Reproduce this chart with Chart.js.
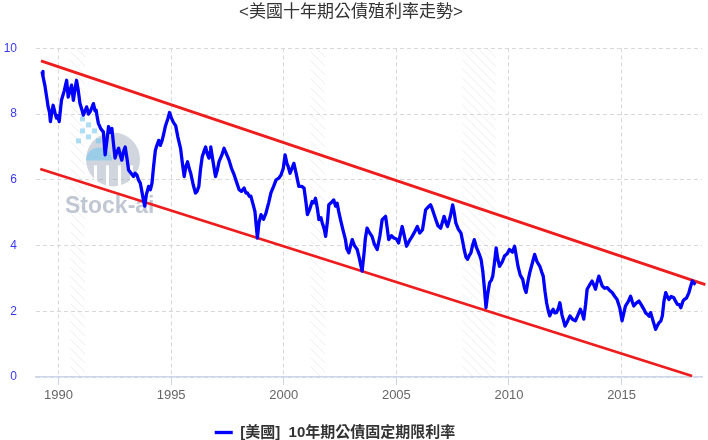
<!DOCTYPE html>
<html>
<head>
<meta charset="utf-8">
<script src="https://cdn.jsdelivr.net/npm/chart.js"></script>
<style>
  html, body { margin: 0; padding: 0; background: #fff; }
</style>
</head>
<body>
<canvas id="myChart" width="708" height="440"></canvas>
<script>
// 10y yield (decimal years)
var years = [
  1989.27, 1989.31, 1989.40, 1989.50, 1989.54, 1989.60, 1989.64, 1989.70, 1989.76, 1989.84, 1989.91, 1989.97,
  1990.03, 1990.08, 1990.13, 1990.25, 1990.36, 1990.43, 1990.50, 1990.58, 1990.66, 1990.73, 1990.80, 1990.88, 1990.95,
  1991.03, 1991.10, 1991.18, 1991.25, 1991.33, 1991.40, 1991.48, 1991.55, 1991.62, 1991.67, 1991.72, 1991.77, 1991.88, 1991.99,
  1992.07, 1992.15, 1992.22, 1992.30, 1992.37, 1992.44, 1992.51, 1992.59, 1992.67, 1992.74, 1992.81, 1992.88, 1992.96,
  1993.04, 1993.11, 1993.22, 1993.33, 1993.40, 1993.48, 1993.55, 1993.63, 1993.70, 1993.78, 1993.83, 1993.90,
  1994.00, 1994.08, 1994.15, 1994.22, 1994.30, 1994.37, 1994.45, 1994.52, 1994.60, 1994.67, 1994.74, 1994.85, 1994.93,
  1995.00, 1995.10, 1995.20, 1995.30, 1995.42, 1995.50, 1995.58, 1995.65, 1995.73, 1995.80, 1995.87, 1995.98,
  1996.08, 1996.15, 1996.23, 1996.30, 1996.38, 1996.45, 1996.53, 1996.60, 1996.68, 1996.73, 1996.76, 1996.85, 1996.97,
  1997.05, 1997.13, 1997.25, 1997.35, 1997.45, 1997.57, 1997.68, 1997.80, 1997.92,
  1998.02, 1998.12, 1998.24, 1998.32, 1998.39, 1998.47, 1998.54, 1998.62, 1998.72, 1998.78, 1998.83, 1998.90, 1998.99,
  1999.10, 1999.21, 1999.33, 1999.43, 1999.55, 1999.66, 1999.78, 1999.88, 1999.98,
  2000.06, 2000.14, 2000.20, 2000.28, 2000.45, 2000.55, 2000.67, 2000.80, 2000.90, 2000.99,
  2001.05, 2001.15, 2001.26, 2001.34, 2001.41, 2001.50, 2001.56, 2001.65, 2001.71, 2001.80, 2001.86, 2001.95,
  2002.00, 2002.10, 2002.22, 2002.30, 2002.37, 2002.45, 2002.52, 2002.62, 2002.74, 2002.80, 2002.89, 2002.97,
  2003.04, 2003.14, 2003.26, 2003.36, 2003.42, 2003.48, 2003.57, 2003.62, 2003.70, 2003.80, 2003.92,
  2004.02, 2004.15, 2004.27, 2004.37, 2004.52, 2004.60, 2004.66, 2004.78, 2004.89,
  2005.00, 2005.10, 2005.18, 2005.26, 2005.35, 2005.45, 2005.58, 2005.70, 2005.80, 2005.93,
  2006.04, 2006.16, 2006.30, 2006.38, 2006.52, 2006.60, 2006.75, 2006.85, 2006.97,
  2007.04, 2007.12, 2007.20, 2007.27, 2007.40, 2007.50, 2007.57, 2007.64, 2007.75, 2007.87, 2007.95,
  2008.01, 2008.09, 2008.16, 2008.24, 2008.31, 2008.38, 2008.46, 2008.55, 2008.62, 2008.70, 2008.76, 2008.84, 2008.90, 2008.98,
  2009.05, 2009.14, 2009.22, 2009.28, 2009.36, 2009.43, 2009.50, 2009.58, 2009.70, 2009.80, 2009.92,
  2010.02, 2010.15, 2010.25, 2010.32, 2010.40, 2010.50, 2010.61, 2010.69, 2010.76, 2010.84, 2010.92,
  2011.05, 2011.14, 2011.25, 2011.37, 2011.45, 2011.52, 2011.60, 2011.67, 2011.75, 2011.81, 2011.90, 2011.96,
  2012.03, 2012.11, 2012.20, 2012.26, 2012.35, 2012.49, 2012.60, 2012.71, 2012.83, 2012.95,
  2013.07, 2013.17, 2013.27, 2013.32, 2013.40, 2013.47, 2013.58, 2013.69, 2013.80, 2013.84, 2013.92, 2013.99,
  2014.10, 2014.14, 2014.25, 2014.36, 2014.45, 2014.58, 2014.70, 2014.80, 2014.92,
  2015.02, 2015.10, 2015.17, 2015.30, 2015.40, 2015.47, 2015.54, 2015.65, 2015.77, 2015.87, 2015.99,
  2016.07, 2016.14, 2016.22, 2016.29, 2016.40, 2016.51, 2016.58, 2016.66, 2016.74, 2016.81, 2016.88, 2016.96,
  2017.03, 2017.10, 2017.20, 2017.32, 2017.40, 2017.48, 2017.56, 2017.63, 2017.72, 2017.78, 2017.88, 2017.99,
  2018.06, 2018.14, 2018.22, 2018.29
];
var yields = [
  9.30, 9.15, 8.85, 8.40, 8.22, 8.05, 7.77, 8.05, 8.27, 8.05, 7.88, 7.95,
  7.77, 8.10, 8.42, 8.70, 9.03, 8.52, 8.70, 8.88, 8.42, 8.75, 9.03, 8.70, 8.33,
  8.15, 7.97, 8.10, 8.22, 8.00, 8.07, 8.20, 8.32, 8.10, 8.12, 7.90, 7.72, 7.55, 7.46,
  6.76, 7.20, 7.62, 7.45, 7.56, 7.10, 6.66, 6.85, 6.96, 6.75, 6.60, 6.85, 7.00,
  6.65, 6.30, 6.20, 6.10, 6.20, 6.15, 6.00, 5.90, 5.65, 5.34, 5.20, 5.55,
  5.80, 5.70, 5.90, 6.40, 6.90, 7.05, 7.20, 7.05, 7.20, 7.40, 7.62, 7.85, 8.05,
  7.90, 7.75, 7.65, 7.30, 6.95, 6.50, 6.10, 6.40, 6.55, 6.35, 6.20, 5.85,
  5.60, 5.65, 5.80, 6.30, 6.70, 6.85, 7.00, 6.80, 6.66, 6.85, 7.00, 6.60, 6.10,
  6.30, 6.56, 6.75, 6.96, 6.80, 6.60, 6.35, 6.15, 5.90,
  5.70, 5.65, 5.75, 5.60, 5.60, 5.50, 5.50, 5.30, 5.04, 4.60, 4.23, 4.70, 4.94,
  4.80, 4.99, 5.30, 5.60, 5.80, 6.00, 6.05, 6.15, 6.35,
  6.76, 6.50, 6.40, 6.20, 6.50, 6.20, 5.80, 5.80, 5.75, 5.30,
  4.94, 5.10, 5.34, 5.30, 5.44, 5.10, 4.79, 4.85, 4.69, 4.50, 4.28, 4.80,
  5.24, 5.30, 5.39, 5.20, 5.29, 5.00, 4.79, 4.50, 4.18, 3.90, 3.78, 4.00,
  4.18, 4.00, 3.88, 3.60, 3.40, 3.22, 3.80, 4.20, 4.53, 4.40, 4.28,
  4.05, 3.88, 4.30, 4.79, 4.89, 4.50, 4.18, 4.30, 4.23,
  4.20, 4.08, 4.35, 4.58, 4.30, 3.98, 4.15, 4.28, 4.40, 4.58,
  4.38, 4.48, 5.09, 5.15, 5.24, 5.10, 4.79, 4.60, 4.53,
  4.70, 4.89, 4.70, 4.58, 4.90, 5.24, 5.00, 4.69, 4.50, 4.38, 4.10,
  3.88, 3.65, 3.58, 3.70, 3.78, 4.00, 4.18, 3.95, 3.84, 3.70, 3.58, 3.20, 2.77, 2.11,
  2.50, 2.87, 2.95, 3.07, 3.50, 3.93, 3.60, 3.37, 3.50, 3.68, 3.75,
  3.88, 3.80, 3.98, 3.70, 3.37, 3.10, 2.97, 2.70, 2.57, 2.90, 3.17,
  3.50, 3.73, 3.50, 3.37, 3.20, 3.07, 2.60, 2.26, 2.00, 1.86, 2.00, 2.06,
  1.95, 1.96, 2.10, 2.26, 1.90, 1.55, 1.70, 1.86, 1.75, 1.71,
  1.90, 2.06, 1.90, 1.76, 2.20, 2.67, 2.80, 2.92, 2.75, 2.67, 2.90, 3.07,
  2.85, 2.77, 2.70, 2.72, 2.65, 2.57, 2.45, 2.36, 2.10,
  1.71, 1.95, 2.16, 2.30, 2.46, 2.30, 2.16, 2.25, 2.31, 2.20, 2.06,
  1.95, 1.91, 1.85, 1.96, 1.70, 1.45, 1.55, 1.65, 1.70, 1.86, 2.30, 2.57,
  2.45, 2.36, 2.45, 2.41, 2.30, 2.21, 2.20, 2.11, 2.30, 2.36, 2.40, 2.57,
  2.75, 2.92, 2.85, 2.82
];

// trend channel end points
var upperYears = [1989.22, 2018.72];
var upperVals = [9.62, 2.81];
var lowerYears = [1989.19, 2018.13];
var lowerVals = [6.33, 0.03];

// shaded (hatched) periods
var recessions = [[1990.52, 1991.19], [2001.18, 2001.85], [2007.91, 2009.42]];

var titleText = '<美國十年期公債殖利率走勢>';
var seriesName = '[美國]  10年期公債固定期限利率';

function toPoints(xs, ys) {
  return xs.map(function(x, i) { return {x: x, y: ys[i]}; });
}

Chart.defaults.font.family = '"Liberation Sans", Arial, "Noto Sans CJK TC", sans-serif';

var bandPlugin = {
  id: 'bands',
  beforeDatasetsDraw: function(chart) {
    var ctx = chart.ctx, a = chart.chartArea, xs = chart.scales.x;
    ctx.save();
    ctx.beginPath();
    ctx.rect(a.left, a.top, a.right - a.left, a.bottom - a.top);
    ctx.clip();
    ctx.strokeStyle = 'rgba(190,190,190,0.28)';
    ctx.lineWidth = 1;
    recessions.forEach(function(r) {
      var x0 = xs.getPixelForValue(r[0]), x1 = xs.getPixelForValue(r[1]), w = x1 - x0;
      ctx.save();
      ctx.beginPath();
      ctx.rect(x0, a.top, w, a.bottom - a.top);
      ctx.clip();
      ctx.beginPath();
      for (var k = a.top - w; k < a.bottom; k += 9) {
        ctx.moveTo(x0, k);
        ctx.lineTo(x1, k + w);
      }
      ctx.stroke();
      ctx.restore();
    });

    // watermark
    var ox = a.left, oy = a.top;
    ctx.fillStyle = 'rgba(150,162,182,0.45)';
    ctx.beginPath();
    ctx.arc(ox + 77, oy + 111, 27, 0, Math.PI * 2);
    ctx.fill();
    ctx.fillStyle = 'rgba(120,200,240,0.6)';
    ctx.beginPath();
    ctx.arc(ox + 63, oy + 112, 13, Math.PI, Math.PI * 2);
    ctx.fill();
    [[44, 68], [50, 74], [56, 80], [44, 80], [50, 86], [60, 90], [40, 90]].forEach(function(p) {
      ctx.fillRect(ox + p[0], oy + p[1], 5, 5);
    });
    ctx.fillStyle = '#fff';
    [58, 70, 82, 94].forEach(function(px) {
      ctx.fillRect(ox + px, oy + 117, 3, 24);
    });
    ctx.fillStyle = 'rgba(150,162,182,0.6)';
    ctx.font = 'bold 23px "Liberation Sans", Arial, sans-serif';
    ctx.textBaseline = 'middle';
    ctx.fillText('Stock-ai', ox + 29, oy + 158);
    ctx.restore();
  }
};

var legendNudge = {
  id: 'legendNudge',
  afterUpdate: function(chart) {
    var lg = chart.legend;
    lg.left -= 16; lg.right -= 16;
    lg.top += 10; lg.bottom += 10;
  }
};

new Chart(document.getElementById('myChart'), {
  type: 'line',
  data: {
    datasets: [{
      label: seriesName,
      data: toPoints(years, yields),
      borderColor: '#0000ff',
      backgroundColor: '#0000ff',
      borderWidth: 3.3,
      pointRadius: 0,
      borderJoinStyle: 'round'
    }, {
      label: 'upper',
      data: toPoints(upperYears, upperVals),
      borderColor: '#ee1c1c',
      borderWidth: 2.8,
      pointRadius: 0,
      clip: false
    }, {
      label: 'lower',
      data: toPoints(lowerYears, lowerVals),
      borderColor: '#ee1c1c',
      borderWidth: 2.8,
      pointRadius: 0,
      clip: false
    }]
  },
  options: {
    responsive: false,
    animation: false,
    layout: { padding: { left: 0, right: 6, top: 0, bottom: 0 } },
    plugins: {
      title: {
        display: true,
        text: titleText,
        color: '#333',
        font: { size: 17, weight: 'normal' },
        padding: { top: 2, bottom: 26 }
      },
      legend: {
        position: 'bottom',
        labels: {
          filter: function(item) { return item.datasetIndex === 0; },
          usePointStyle: true,
          pointStyle: 'line',
          pointStyleWidth: 18,
          color: '#333',
          font: { size: 15, weight: 'bold' },
          padding: 10
        }
      },
      tooltip: { enabled: false }
    },
    scales: {
      x: {
        type: 'linear',
        min: 1989.0,
        max: 2018.57,
        afterFit: function(s) { s.height = 28; },
        ticks: {
          stepSize: 5,
          includeBounds: false,
          color: '#666',
          font: { size: 13 },
          padding: 3,
          callback: function(v) { return String(v); }
        },
        grid: { color: '#d8d8d8', tickColor: '#ccd6eb', tickLength: 8, tickBorderDash: [] },
        border: { display: true, color: '#ccd6eb', width: 1.5, dash: [4, 3] }
      },
      y: {
        min: 0,
        max: 10,
        afterFit: function(s) { s.width = 36; },
        ticks: { stepSize: 2, color: '#3a3af5', font: { size: 12 }, padding: 19 },
        grid: { color: '#d8d8d8', drawTicks: false },
        border: { display: false, dash: [4, 3] }
      }
    }
  },
  plugins: [bandPlugin, legendNudge]
});
</script>
</body>
</html>
